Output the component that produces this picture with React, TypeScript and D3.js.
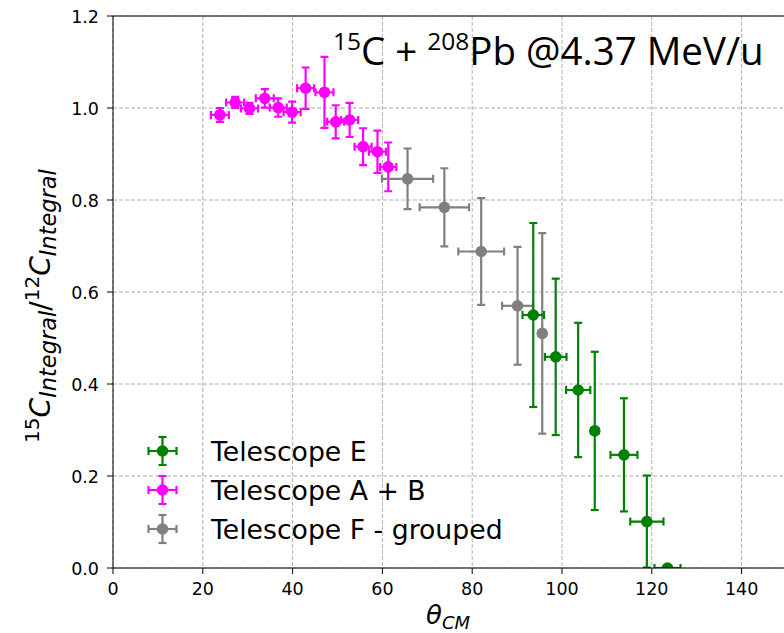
import React from "react";
import * as d3 from "d3";

// Telescope A + B (magenta)
const abX = [23.8, 27.2, 30.4, 33.8, 36.8, 39.9, 42.9, 47.1, 49.6, 52.7, 55.7, 58.9, 61.3];
const abY = [0.985, 1.012, 0.999, 1.021, 1.001, 0.991, 1.043, 1.034, 0.970, 0.974, 0.916, 0.905, 0.872];
const abXerr = [2.0, 2.0, 1.9, 2.0, 1.9, 1.9, 1.9, 2.0, 1.9, 1.9, 1.9, 1.9, 1.8];
const abYerr = [0.015, 0.012, 0.012, 0.02, 0.02, 0.023, 0.045, 0.077, 0.036, 0.037, 0.04, 0.046, 0.053];

// Telescope F - grouped (gray)
const fX = [65.6, 73.8, 82.0, 90.1, 95.6];
const fY = [0.846, 0.784, 0.688, 0.570, 0.510];
const fXerr = [5.7, 5.5, 5.1, 3.45, 0];
const fYerr = [0.066, 0.085, 0.116, 0.128, 0.218];

// Telescope E (green)
const eX = [93.6, 98.6, 103.6, 107.3, 113.8, 118.9, 123.5];
const eY = [0.550, 0.459, 0.387, 0.298, 0.246, 0.101, 0.0];
const eXerr = [2.4, 2.4, 2.7, 0.8, 3.0, 3.7, 2.9];
const eYerr = [0.2, 0.17, 0.146, 0.172, 0.123, 0.1, 0.0];

const xTicks = [0, 20, 40, 60, 80, 100, 120, 140];
const yTicks = [0.0, 0.2, 0.4, 0.6, 0.8, 1.0, 1.2];

const W = 784, H = 633;
const L = 113, R = 786.5, T = 16, B = 568;

const x = d3.scaleLinear().domain([0, 150]).range([L, R]);
const y = d3.scaleLinear().domain([0, 1.2]).range([B, T]);

const FONT = "DejaVu Sans, sans-serif";

type Series = { xs: number[]; ys: number[]; xe: number[]; ye: number[]; color: string };

const series: Series[] = [
  { xs: eX, ys: eY, xe: eXerr, ye: eYerr, color: "#008000" },
  { xs: abX, ys: abY, xe: abXerr, ye: abYerr, color: "#ff00ff" },
  { xs: fX, ys: fY, xe: fXerr, ye: fYerr, color: "#808080" },
];
const drawOrder = [1, 2, 0];
const legendLabels = ["Telescope E", "Telescope A + B", "Telescope F - grouped"];

const CAP = 4;
const LW = 2.2;
const MR = 5.8;

function ErrPoint({ cx, cy, x0, x1, y0, y1, color }: any) {
  return (
    <g stroke={color} strokeWidth={LW} fill={color}>
      {x1 - x0 > 0.5 && (
        <>
          <line x1={x0} x2={x1} y1={cy} y2={cy} />
          <line x1={x0} x2={x0} y1={cy - CAP} y2={cy + CAP} />
          <line x1={x1} x2={x1} y1={cy - CAP} y2={cy + CAP} />
        </>
      )}
      {y0 - y1 > 0.5 && (
        <>
          <line x1={cx} x2={cx} y1={y0} y2={y1} />
          <line x1={cx - CAP} x2={cx + CAP} y1={y0} y2={y0} />
          <line x1={cx - CAP} x2={cx + CAP} y1={y1} y2={y1} />
        </>
      )}
      <circle cx={cx} cy={cy} r={MR} stroke="none" />
    </g>
  );
}

export default function App() {
  return (
    <svg width={W} height={H} style={{ position: "absolute", left: 0, top: 0 }} fontFamily={FONT}>
      <defs>
        <clipPath id="plot">
          <rect x={L} y={T} width={R - L} height={B - T} />
        </clipPath>
      </defs>
      <rect x={0} y={0} width={W} height={H} fill="white" />
      {/* grid */}
      <g stroke="#b0b0b0" strokeWidth={1} strokeDasharray="4,2">
        {xTicks.map((t) => (
          <line key={"gx" + t} x1={x(t)} x2={x(t)} y1={T} y2={B} />
        ))}
        {yTicks.map((t) => (
          <line key={"gy" + t} x1={L} x2={R} y1={y(t)} y2={y(t)} />
        ))}
      </g>
      {/* data */}
      <g clipPath="url(#plot)">
        {drawOrder.map((si) => {
          const s = series[si];
          return (
            <g key={si}>
              {s.xs.map((xv, i) => (
                <ErrPoint
                  key={i}
                  cx={x(xv)}
                  cy={y(s.ys[i])}
                  x0={x(xv - s.xe[i])}
                  x1={x(xv + s.xe[i])}
                  y0={y(s.ys[i] - s.ye[i])}
                  y1={y(s.ys[i] + s.ye[i])}
                  color={s.color}
                />
              ))}
            </g>
          );
        })}
      </g>
      {/* spines */}
      <g stroke="black" strokeWidth={1} fill="none">
        <line x1={L} x2={L} y1={T} y2={B} />
        <line x1={L} x2={R} y1={B} y2={B} />
        <line x1={L} x2={R} y1={T} y2={T} />
        <line x1={R} x2={R} y1={T} y2={B} />
      </g>
      {/* ticks */}
      <g stroke="black" strokeWidth={1}>
        {xTicks.map((t) => (
          <line key={"tx" + t} x1={x(t)} x2={x(t)} y1={B} y2={B + 6} />
        ))}
        {yTicks.map((t) => (
          <line key={"ty" + t} x1={L - 6} x2={L} y1={y(t)} y2={y(t)} />
        ))}
      </g>
      <g fontSize={17.5} fill="black">
        {xTicks.map((t) => (
          <text key={"lx" + t} x={x(t)} y={595} textAnchor="middle">
            {d3.format("d")(t)}
          </text>
        ))}
        {yTicks.map((t) => (
          <text key={"ly" + t} x={99} y={y(t) + 6.5} textAnchor="end">
            {d3.format(".1f")(t)}
          </text>
        ))}
      </g>
      {/* x label */}
      <text x={448} y={624} fontSize={26} textAnchor="middle" fontStyle="italic">
        θ<tspan fontSize={18} dy={5}>CM</tspan>
      </text>
      {/* y label */}
      <text transform={`translate(50,${306}) rotate(-90)`} fontSize={28} textAnchor="middle">
        <tspan fontSize={20} dy={-11}>15</tspan>
        <tspan fontStyle="italic" dy={11}>C</tspan>
        <tspan fontSize={22.5} fontStyle="italic" dy={6}>Integral</tspan>
        <tspan dy={-6}>/</tspan>
        <tspan fontSize={20} dy={-11}>12</tspan>
        <tspan fontStyle="italic" dy={11}>C</tspan>
        <tspan fontSize={22.5} fontStyle="italic" dy={6}>Integral</tspan>
      </text>
      {/* title annotation */}
      <text x={333} y={65} fontSize={38.5} fontFamily="Open Sans, sans-serif" fill="black">
        <tspan fontSize={24.5} dy={-15}>15</tspan>
        <tspan dy={15}>C + </tspan>
        <tspan fontSize={24.5} dy={-15}>208</tspan>
        <tspan dy={15}>Pb @4.37 MeV/u</tspan>
      </text>
      {/* legend */}
      {series.map((s, i) => {
        const cy = 451 + i * 39;
        const cx = 162.5;
        return (
          <g key={"lg" + i}>
            <ErrPoint cx={cx} cy={cy} x0={cx - 14} x1={cx + 14} y0={cy + 14} y1={cy - 14} color={s.color} />
            <text x={211} y={cy + 9.5} fontSize={26.7} fill="black">
              {legendLabels[i]}
            </text>
          </g>
        );
      })}
    </svg>
  );
}
